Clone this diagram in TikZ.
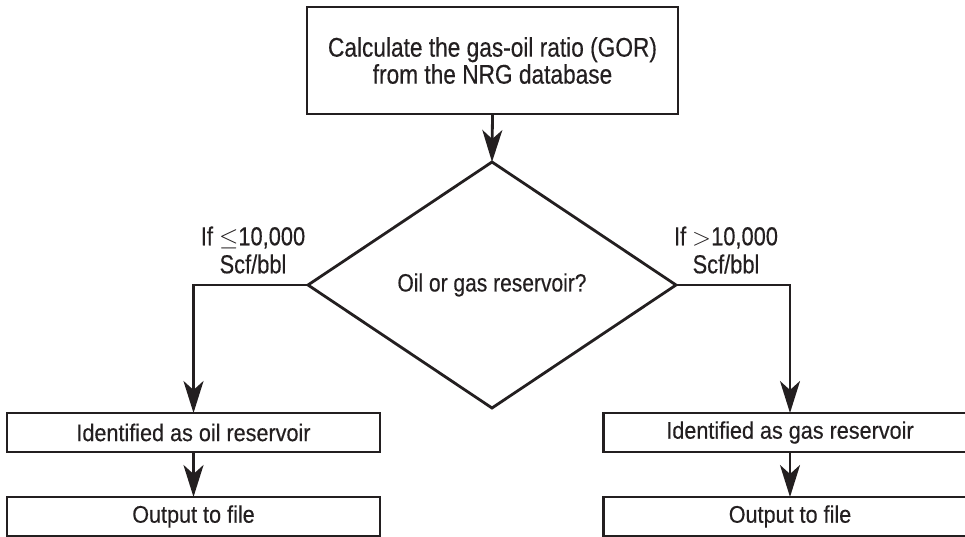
\documentclass[tikz,border=0pt]{standalone}
\usepackage{fontspec}
\setmainfont{Liberation Sans}[FakeStretch=0.84, FakeBold=0.35]
\newfontfamily\lowfont{Liberation Sans}[FakeStretch=0.9, FakeBold=0.35]
\usetikzlibrary{arrows.meta,shapes.geometric}
\definecolor{ink}{HTML}{231F20}
\tikzset{
  flowline/.style={draw=ink, line width=2.8pt},
  arr/.style={flowline, -{Stealth[length=32pt, width=20pt, inset=9pt]}},
  procbox/.style={draw=ink, line width=2.8pt, rectangle, inner sep=0pt, outer sep=0pt,
    text=ink, align=center},
  lowbox/.style={procbox, minimum width=373pt, minimum height=39pt,
    font=\lowfont\fontsize{24}{26}\selectfont},
  decision/.style={draw=ink, line width=2.8pt, diamond, inner sep=0pt, outer sep=0pt,
    minimum width=368pt, minimum height=246pt, text=ink,
    font=\fontsize{25}{27}\selectfont},
  lbl/.style={text=ink, align=center, inner sep=0pt, font=\fontsize{26}{28}\selectfont}
}
\begin{document}
\begin{tikzpicture}[x=1pt, y=-1pt]
  \useasboundingbox (0,0) rectangle (965,537);

  % first step
  \node[procbox, minimum width=371pt, minimum height=107pt,
        font=\fontsize{27}{27}\selectfont] (calc) at (492.5,60.5)
    {Calculate the gas-oil ratio (GOR)\\from the NRG database};

  % decision
  \node[decision] (dec) at (492,285) {\raisebox{3pt}{Oil or gas reservoir?}};

  % oil branch
  \node[lowbox] (oil) at (193.5,432.5) {\raisebox{-2pt}{Identified as oil reservoir}};
  \node[lowbox] (oilout) at (193.5,516.5) {\raisebox{-2pt}{Output to file}};

  % gas branch
  \node[lowbox] (gas) at (790,432.5) {\raisebox{-2pt}{Identified as gas reservoir}};
  \node[lowbox] (gasout) at (790,516.5) {\raisebox{-2pt}{Output to file}};

  % connectors
  \draw[arr] (calc.south) -- (dec.north);
  \draw[arr] (dec.west) -| (oil.north);
  \draw[arr] (dec.east) -| (gas.north);
  \draw[arr] (oil.south) -- (oilout.north);
  \draw[arr] (gas.south) -- (gasout.north);

  % branch conditions
  \node[lbl] (condoil) at (253,250) {If $\leq$10,000\\Scf/bbl};
  \node[lbl] (condgas) at (726,250) {If $>$10,000\\Scf/bbl};
\end{tikzpicture}
\end{document}
